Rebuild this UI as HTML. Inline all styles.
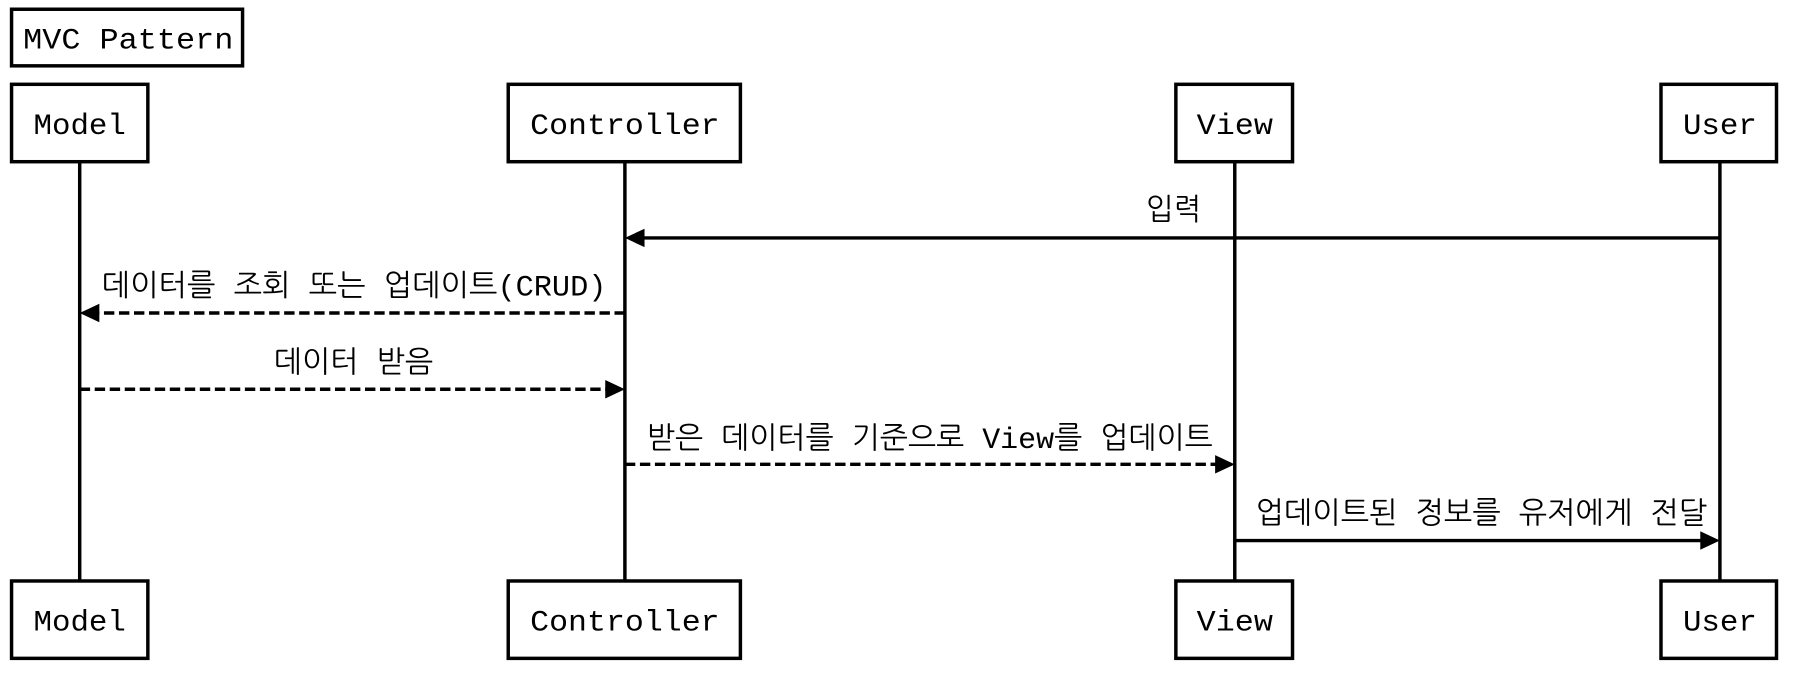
<!DOCTYPE html>
<html><head><meta charset="utf-8"><style>
html,body{margin:0;padding:0;background:#fff;width:1810px;height:678px;overflow:hidden}
svg{display:block}
text{font-family:"Liberation Mono","NanumGothic","Noto Sans CJK KR",monospace;font-size:26px;fill:#000}
</style></head><body>
<svg width="1810" height="678" viewBox="0 0 1567 587" preserveAspectRatio="none">
<g stroke="#000" stroke-width="3" fill="#fff">
<rect x="10" y="8" width="200" height="49"/>
<line x1="69" y1="140" x2="69" y2="503"/>
<line x1="541" y1="140" x2="541" y2="503"/>
<line x1="1069" y1="140" x2="1069" y2="503"/>
<line x1="1489" y1="140" x2="1489" y2="503"/>
<rect x="10" y="73" width="118" height="67"/>
<rect x="440" y="73" width="201" height="67"/>
<rect x="1018" y="73" width="101" height="67"/>
<rect x="1438" y="73" width="100" height="67"/>
<rect x="10" y="503" width="118" height="67"/>
<rect x="440" y="503" width="201" height="67"/>
<rect x="1018" y="503" width="101" height="67"/>
<rect x="1438" y="503" width="100" height="67"/>
</g>
<g stroke="#000" stroke-width="3" fill="none">
<line x1="1489" y1="206" x2="556" y2="206"/>
<line x1="541" y1="271" x2="84" y2="271" stroke-dasharray="9,4"/>
<line x1="69" y1="337" x2="526" y2="337" stroke-dasharray="9,4"/>
<line x1="541" y1="402" x2="1054" y2="402" stroke-dasharray="9,4"/>
<line x1="1069" y1="468" x2="1474" y2="468"/>
</g>
<g fill="#000">
<polygon points="541,206 558,198 558,214"/>
<polygon points="69,271 86,263 86,279"/>
<polygon points="541,337 524,329 524,345"/>
<polygon points="1069,402 1052,394 1052,410"/>
<polygon points="1489,468 1472,460 1472,476"/>
</g>
<text x="20" y="42" textLength="182" lengthAdjust="spacingAndGlyphs">MVC Pattern</text>
<g text-anchor="middle">
<text x="69" y="116" textLength="80" lengthAdjust="spacingAndGlyphs">Model</text>
<text x="541" y="116" textLength="164" lengthAdjust="spacingAndGlyphs">Controller</text>
<text x="1069" y="116" textLength="66" lengthAdjust="spacingAndGlyphs">View</text>
<text x="1489" y="116" textLength="64" lengthAdjust="spacingAndGlyphs">User</text>
<text x="69" y="546" textLength="80" lengthAdjust="spacingAndGlyphs">Model</text>
<text x="541" y="546" textLength="164" lengthAdjust="spacingAndGlyphs">Controller</text>
<text x="1069" y="546" textLength="66" lengthAdjust="spacingAndGlyphs">View</text>
<text x="1489" y="546" textLength="64" lengthAdjust="spacingAndGlyphs">User</text>
</g>
<text x="992" y="190" textLength="48" lengthAdjust="spacingAndGlyphs">입력</text>
<text x="88" y="256" textLength="437" lengthAdjust="spacingAndGlyphs">데이터를 조회 또는 업데이트(CRUD)</text>
<text x="237" y="322" textLength="138" lengthAdjust="spacingAndGlyphs">데이터 받음</text>
<text x="560" y="388" textLength="490" lengthAdjust="spacingAndGlyphs">받은 데이터를 기준으로 View를 업데이트</text>
<text x="1087" y="453" textLength="391" lengthAdjust="spacingAndGlyphs">업데이트된 정보를 유저에게 전달</text>
</svg>
</body></html>
